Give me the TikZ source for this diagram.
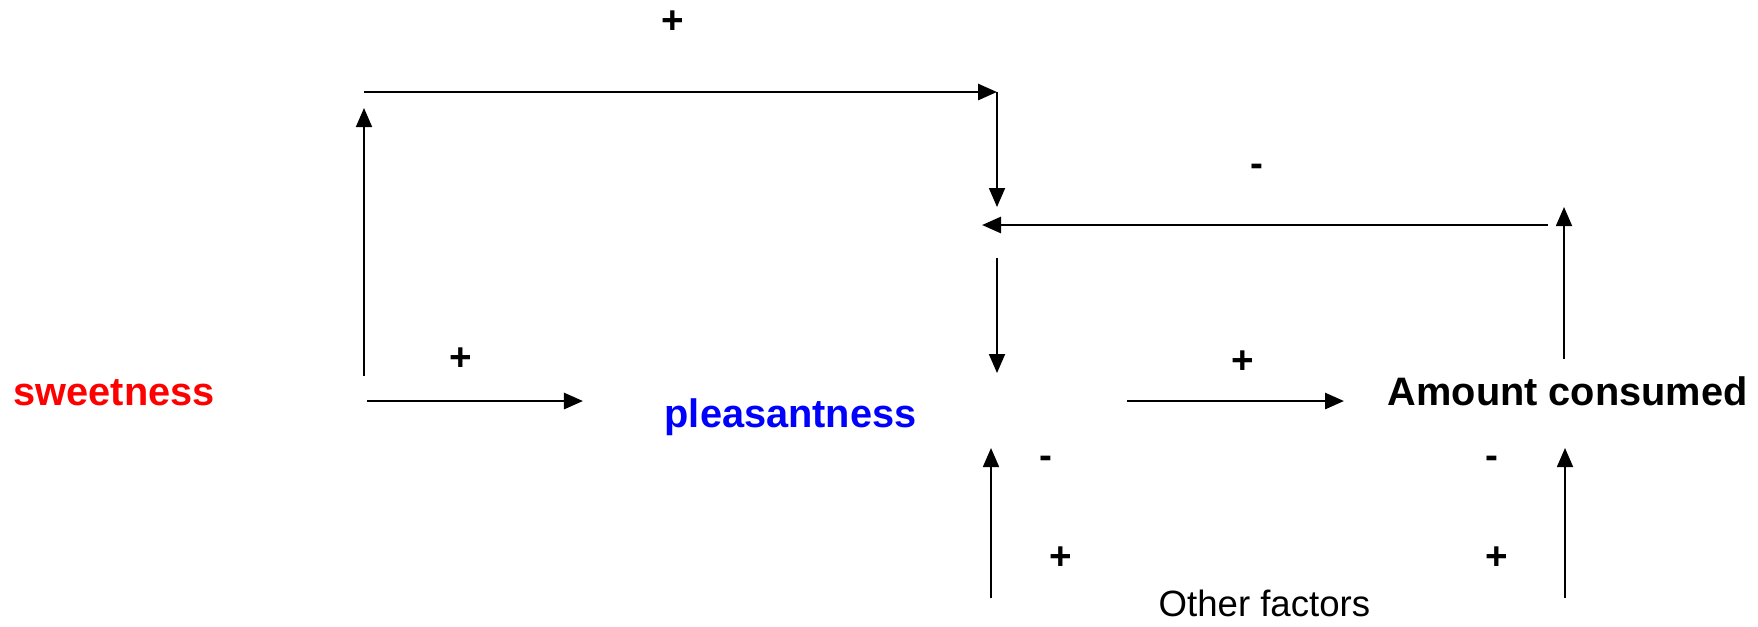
\documentclass[tikz,border=0pt]{standalone}
\usepackage{fontspec}
\setmainfont{Liberation Sans}
\usetikzlibrary{arrows.meta}
\definecolor{sweetred}{HTML}{FF0000}
\definecolor{pleasblue}{HTML}{0000FF}
\tikzset{
  factor/.style={font=\fontsize{11.3}{13}\selectfont\bfseries, inner sep=0pt, anchor=base west},
  other/.style={font=\fontsize{10.4}{12}\selectfont, inner sep=0pt, anchor=base west},
  sign/.style={font=\fontsize{11}{13}\selectfont\bfseries, inner sep=0pt},
  arrow/.style={-{Triangle[length=1.9mm, width=1.6mm]}, line width=0.5pt},
  arrowh/.style={arrow, line width=0.8pt},
}

\begin{document}
\begin{tikzpicture}[x=0.01cm, y=-0.01cm]
\useasboundingbox (0,0) rectangle (1758,626);
\node[factor, text=sweetred] (sweet) at (13,405) {sweetness};
\node[factor, text=pleasblue] (pleas) at (664,427) {pleasantness};
\node[factor] (amount) at (1387,405) {Amount consumed};
\node[other] (others) at (1158,616) {Other factors};

\coordinate (sUp0) at (364,376);
\coordinate (sUp1) at (364,108);
\coordinate (topL) at (364,92);
\coordinate (topR) at (997,92);
\coordinate (topD) at (997,207);
\coordinate (fbR) at (1548,225);
\coordinate (fbL) at (982,225);
\coordinate (aUp0) at (1564,359);
\coordinate (aUp1) at (1564,207);
\coordinate (pDn0) at (997,258);
\coordinate (pDn1) at (997,373);
\coordinate (sw0) at (367,401);
\coordinate (sw1) at (583,401);
\coordinate (pa0) at (1127,401);
\coordinate (pa1) at (1344,401);
\coordinate (oL0) at (991,598);
\coordinate (oL1) at (991,448);
\coordinate (oR0) at (1565,598);
\coordinate (oR1) at (1565,448);

\draw[arrow] (sUp0) -- (sUp1);
\draw[arrowh] (topL) -- (topR);
\draw[arrow] (topR) -- (topD);
\draw[arrowh] (fbR) -- (fbL);
\draw[arrow] (aUp0) -- (aUp1);
\draw[arrow] (pDn0) -- (pDn1);
\draw[arrowh] (sw0) -- (sw1);
\draw[arrowh] (pa0) -- (pa1);
\draw[arrow] (oL0) -- (oL1);
\draw[arrow] (oR0) -- (oR1);

\node[sign] (p1) at (673,22) {+};
\node[sign] (m1) at (1257,170) {-};
\node[sign] (p2) at (461,359) {+};
\node[sign] (p3) at (1243,362) {+};
\node[sign] (m2) at (1046,462) {-};
\node[sign] (m3) at (1492,462) {-};
\node[sign] (p4) at (1061,558) {+};
\node[sign] (p5) at (1497,558) {+};
\end{tikzpicture}
\end{document}
